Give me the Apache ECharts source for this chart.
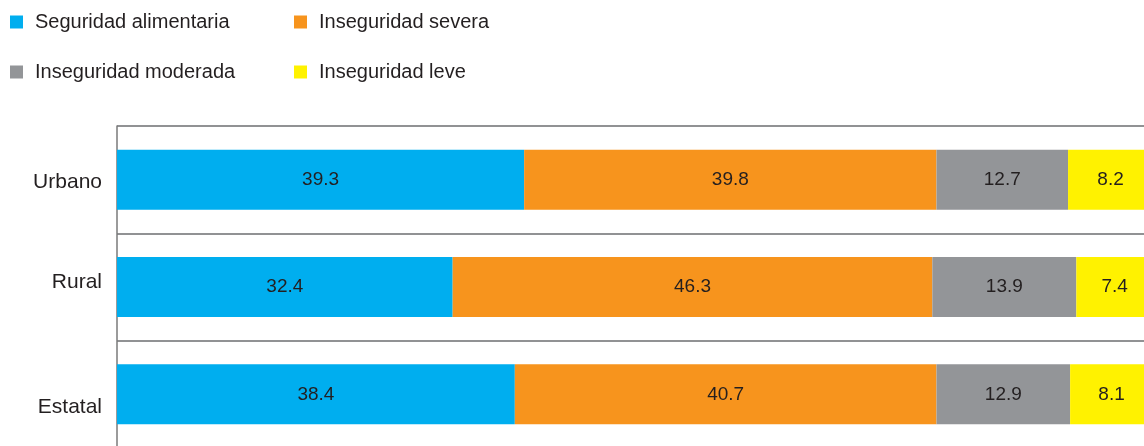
<!DOCTYPE html>
<html>
<head>
<meta charset="utf-8">
<script src="https://cdn.jsdelivr.net/npm/echarts@6/dist/echarts.min.js"></script>
<style>
  html, body { margin: 0; padding: 0; background: #fff; }
  #chart { width: 1144px; height: 446px; }
</style>
</head>
<body>
<div id="chart"></div>
<script>
// datos
var categorias = ['Urbano', 'Rural', 'Estatal'];
var seguridad = [39.3, 32.4, 38.4];
var severa = [39.8, 46.3, 40.7];
var moderada = [12.7, 13.9, 12.9];
var leve = [8.2, 7.4, 8.1];

var nombres = ['Seguridad alimentaria', 'Inseguridad severa', 'Inseguridad moderada', 'Inseguridad leve'];
var colores = ['#00aeef', '#f7941d', '#939598', '#fff200'];

// desplazamiento vertical de las etiquetas (px)
var ajusteEtiqueta = [3, -5, 13];

var chart = echarts.init(document.getElementById('chart'));

function serie(nombre, valores, color) {
	return {
		name: nombre,
		type: 'bar',
		stack: 'total',
		barWidth: 60,
		data: valores,
		itemStyle: { color: color },
		label: {
			show: true,
			position: 'inside',
			color: '#231f20',
			fontSize: 19,
			fontFamily: 'Liberation Sans, Arial, sans-serif',
			formatter: function (p) { return p.value.toFixed(1); }
		}
	};
}

// estilos rich para mover cada etiqueta
var richEtiquetas = {};
ajusteEtiqueta.forEach(function (d, i) {
	richEtiquetas['s' + i] = {
		fontSize: 21,
		color: '#231f20',
		fontFamily: 'Liberation Sans, Arial, sans-serif',
		padding: d > 0 ? [2 * d, 0, 0, 0] : [0, 0, -2 * d, 0]
	};
});

var option = {
	animation: false,
	color: colores,
	legend: {
		left: 10,
		top: 12,
		padding: 0,
		width: 560,
		itemWidth: 13,
		itemHeight: 13,
		itemGap: 30,
		icon: 'rect',
		selectedMode: false,
		data: nombres,
		textStyle: {
			fontSize: 20,
			lineHeight: 20,
			color: '#231f20',
			fontFamily: 'Liberation Sans, Arial, sans-serif',
			width: 229,
			padding: [0, 0, 0, 7]
		}
	},
	grid: {
		left: 117,
		right: -9,
		top: 126,
		bottom: -2,
		outerBoundsMode: 'none'
	},
	xAxis: {
		type: 'value',
		min: 0,
		max: 100,
		show: false
	},
	yAxis: {
		type: 'category',
		inverse: true,
		data: categorias,
		axisLine: { show: true, lineStyle: { color: '#7a7a7a', width: 1.5 } },
		axisTick: { show: false },
		splitLine: { show: true, lineStyle: { color: '#6d6e71', width: 1.5 } },
		axisLabel: {
			fontSize: 21,
			color: '#231f20',
			margin: 15,
			fontFamily: 'Liberation Sans, Arial, sans-serif',
			formatter: function (v, i) { return '{s' + i + '|' + v + '}'; },
			rich: richEtiquetas
		}
	},
	series: [
		serie(nombres[0], seguridad, colores[0]),
		serie(nombres[1], severa, colores[1]),
		serie(nombres[2], moderada, colores[2]),
		serie(nombres[3], leve, colores[3])
	]
};

chart.setOption(option);
</script>
</body>
</html>
